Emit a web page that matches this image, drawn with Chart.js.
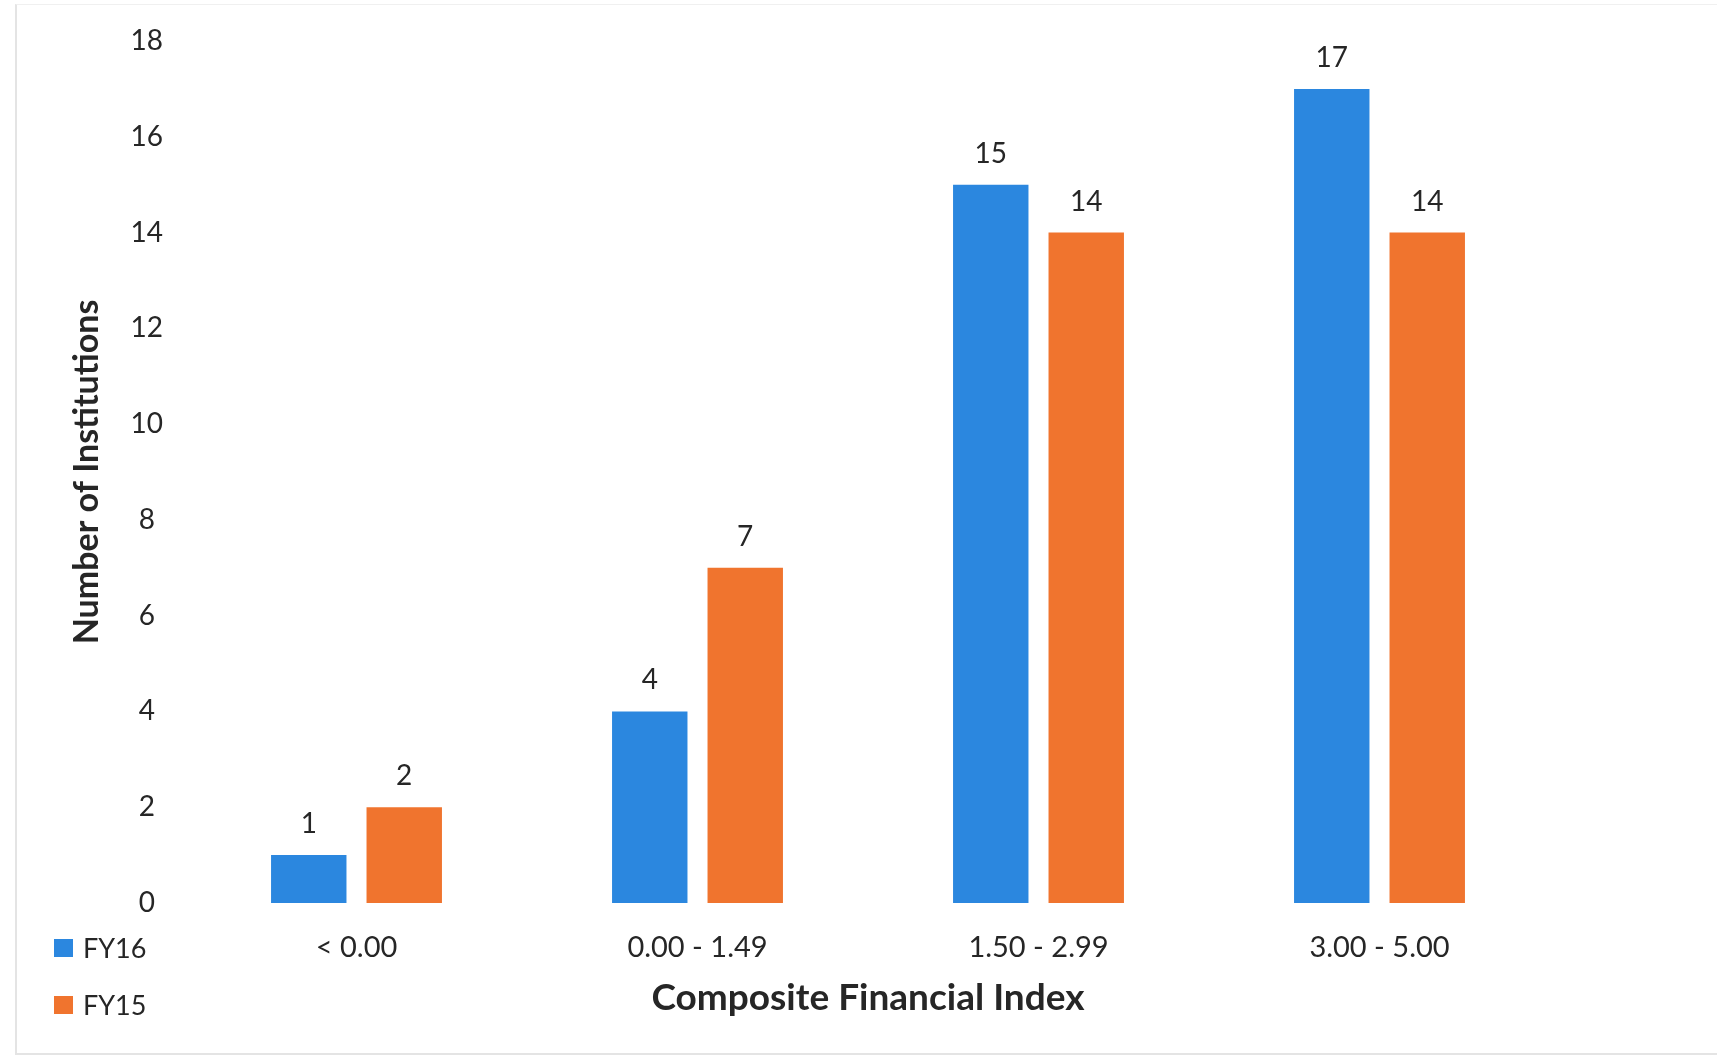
<!DOCTYPE html>
<html>
<head>
<meta charset="utf-8">
<script src="https://cdn.jsdelivr.net/npm/chart.js@4/dist/chart.umd.min.js"></script>
<style>
  html, body { margin: 0; padding: 0; background: #fff; }
  #wrap { position: relative; width: 1729px; height: 1057px; }
  #frame { position: absolute; left: 15px; top: 4px; width: 1700px; height: 1048px;
           border-left: 2px solid #e4e4e4; border-bottom: 2px solid #e4e4e4; border-top: 1px solid #f0f0f0; }
  canvas { position: absolute; left: 0; top: 0; }
</style>
</head>
<body>
<div id="wrap">
  <div id="frame"></div>
  <canvas id="cfi-chart" width="1729" height="1057"></canvas>
</div>
<script>
var categories = ['< 0.00', '0.00 - 1.49', '1.50 - 2.99', '3.00 - 5.00'];
var fy16Values = [1, 4, 15, 17];
var fy15Values = [2, 7, 14, 14];
var yTicks = [0, 2, 4, 6, 8, 10, 12, 14, 16, 18];

var textColor = '#262626';
var fontFamily = 'Lato, "Open Sans", sans-serif';

// numbers above the bars
var valueLabels = {
    id: 'valueLabels',
    afterDatasetsDraw: function(chart) {
        var ctx = chart.ctx;
        ctx.save();
        ctx.font = '28px ' + fontFamily;
        ctx.fillStyle = textColor;
        ctx.textAlign = 'center';
        ctx.textBaseline = 'middle';
        chart.data.datasets.forEach(function(ds, i) {
            chart.getDatasetMeta(i).data.forEach(function(bar, j) {
                ctx.fillText(ds.data[j], bar.x, bar.y - 31);
            });
        });
        ctx.restore();
    }
};

// legend stacked in the bottom left corner
var cornerLegend = {
    id: 'cornerLegend',
    afterDraw: function(chart) {
        var ctx = chart.ctx;
        ctx.save();
        ctx.font = '27px ' + fontFamily;
        ctx.textBaseline = 'middle';
        ctx.textAlign = 'left';
        chart.data.datasets.forEach(function(ds, i) {
            var y = 948 + i * 57;
            ctx.fillStyle = ds.backgroundColor;
            ctx.fillRect(54, y - 9, 19, 18);
            ctx.fillStyle = textColor;
            ctx.fillText(ds.label, 83, y + 1);
        });
        ctx.restore();
    }
};

var ctx = document.getElementById('cfi-chart').getContext('2d');
var cfiChart = new Chart(ctx, {
    type: 'bar',
    data: {
        labels: categories,
        datasets: [{
            label: 'FY16',
            data: fy16Values,
            backgroundColor: '#2b87df'
        }, {
            label: 'FY15',
            data: fy15Values,
            backgroundColor: '#f0742e'
        }]
    },
    options: {
        responsive: false,
        animation: false,
        layout: { padding: { top: 41, right: 179, left: 0, bottom: 0 } },
        categoryPercentage: 0.56,
        barPercentage: 0.79,
        plugins: {
            legend: { display: false },
            tooltip: { enabled: false }
        },
        scales: {
            x: {
                grid: { display: false, drawTicks: false },
                border: { display: false },
                ticks: {
                    color: textColor,
                    font: { family: fontFamily, size: 29 },
                    padding: 27
                },
                title: {
                    display: true,
                    text: 'Composite Financial Index',
                    color: textColor,
                    font: { family: fontFamily, size: 37, weight: 'bold' },
                    padding: { top: 0, bottom: 37 }
                },
                afterFit: function(scale) { scale.height = 154; }
            },
            y: {
                min: 0,
                max: 18,
                grid: { display: false, drawTicks: false },
                border: { display: false },
                afterBuildTicks: function(scale) {
                    scale.ticks = yTicks.map(function(v) { return { value: v }; });
                },
                ticks: {
                    color: textColor,
                    font: { family: fontFamily, size: 28 },
                    crossAlign: 'center',
                    padding: 23
                },
                title: {
                    display: true,
                    text: 'Number of Institutions',
                    color: textColor,
                    font: { family: fontFamily, size: 34, weight: 'bold' },
                    padding: { top: 67, bottom: 0 }
                },
                afterFit: function(scale) { scale.width = 186; }
            }
        }
    },
    plugins: [valueLabels, cornerLegend]
});
</script>
</body>
</html>
